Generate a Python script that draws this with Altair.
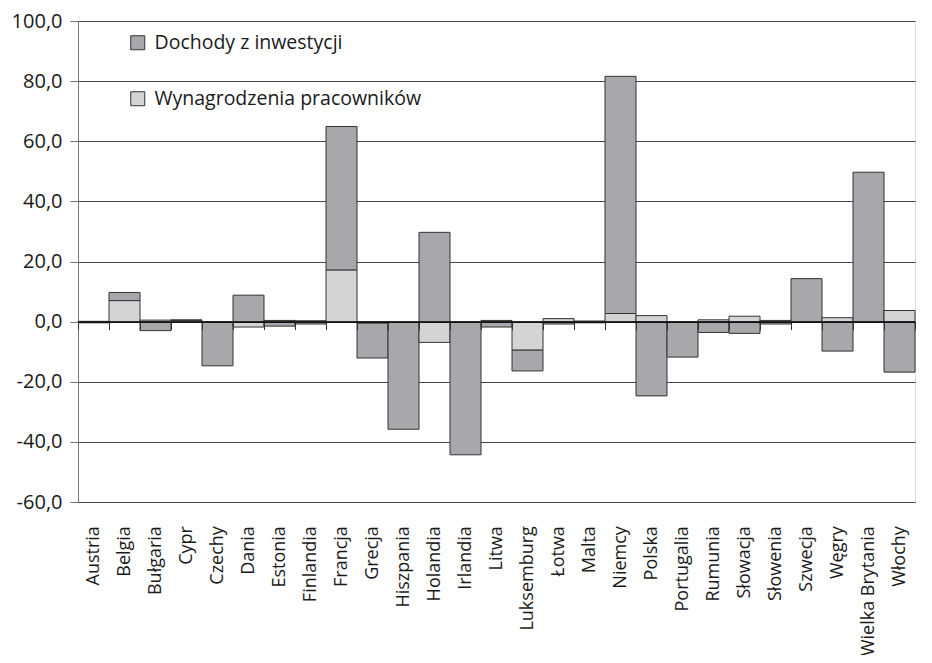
import altair as alt
import pandas as pd

countries = ["Austria", "Belgia", "Bułgaria", "Cypr", "Czechy", "Dania", "Estonia",
             "Finlandia", "Francja", "Grecja", "Hiszpania", "Holandia", "Irlandia",
             "Litwa", "Luksemburg", "Łotwa", "Malta", "Niemcy", "Polska", "Portugalia",
             "Rumunia", "Słowacja", "Słowenia", "Szwecja", "Węgry", "Wielka Brytania",
             "Włochy"]

wynagrodzenia = [0.1, 7.0, 0.5, 0.4, 0.0, -1.8, 0.4, 0.3, 17.2, -0.5, -0.3, -6.9, -0.2,
                 0.4, -9.5, 1.0, 0.2, 2.7, 2.0, 0.0, 0.6, 1.8, 0.4, 0.0, 1.3, 0.0, 3.7]

dochody = [-0.4, 2.7, -3.0, 0.2, -14.7, 8.8, -1.5, -0.8, 47.7, -11.6, -35.5, 29.7, -44.1,
           -1.8, -6.9, -0.8, -0.4, 78.9, -24.7, -11.8, -3.6, -3.9, -0.8, 14.3, -9.8, 49.7,
           -16.8]

series = ["Dochody z inwestycji", "Wynagrodzenia pracowników"]

rows = []
for i, c in enumerate(countries):
    rows.append({"kraj": c, "seria": series[1], "v": wynagrodzenia[i], "ord": 0})
    rows.append({"kraj": c, "seria": series[0], "v": dochody[i], "ord": 1})
df = pd.DataFrame(rows)

font = "Open Sans"
txt = "#1a1a1a"
H = 481

chart = alt.Chart(df).mark_bar(stroke="#333333", strokeWidth=1).encode(
    x=alt.X("kraj:N", sort=countries,
            scale=alt.Scale(paddingInner=0, paddingOuter=0),
            axis=alt.Axis(title=None, labelAngle=270, offset=-H * 0.375, tickBand="extent",
                          domainColor="#111111", domainWidth=1.5, tickColor="#333333",
                          tickSize=8, labelPadding=196, labelFontSize=18,
                          labelFont=font, labelColor=txt, zindex=1, labelLimit=300)),
    y=alt.Y("v:Q", stack="zero",
            scale=alt.Scale(domain=[-60, 100], nice=False, zero=False),
            axis=alt.Axis(title=None, values=list(range(-60, 101, 20)),
                          labelExpr="replace(replace(format(datum.value, '.1f'), '.', ','), '\u2212', '-')",
                          grid=True, gridColor="#444444", gridWidth=1,
                          domainColor="#777777", tickColor="#777777", tickSize=8,
                          labelPadding=8, labelFontSize=20, labelFont=font,
                          labelColor=txt)),
    color=alt.Color("seria:N",
                    scale=alt.Scale(domain=series, range=["#a7a8ab", "#d3d4d6"]),
                    legend=alt.Legend(title=None, orient="none", legendX=50, legendY=12,
                                      symbolType="square", symbolSize=196,
                                      symbolStrokeColor="#333333", symbolStrokeWidth=1,
                                      symbolOpacity=1, labelFontSize=19.5, labelFont=font,
                                      labelColor=txt, rowPadding=35, labelOffset=7,
                                      padding=0, labelLimit=500)),
    order=alt.Order("ord:Q"),
).properties(
    width=837, height=H,
    autosize=alt.AutoSizeParams(type="none"),
    padding={"left": 70, "top": 13, "right": 8, "bottom": 153},
).configure_view(stroke=None).configure(background="white")

chart.save("out.html", embed_options={"renderer": "svg", "actions": False})
